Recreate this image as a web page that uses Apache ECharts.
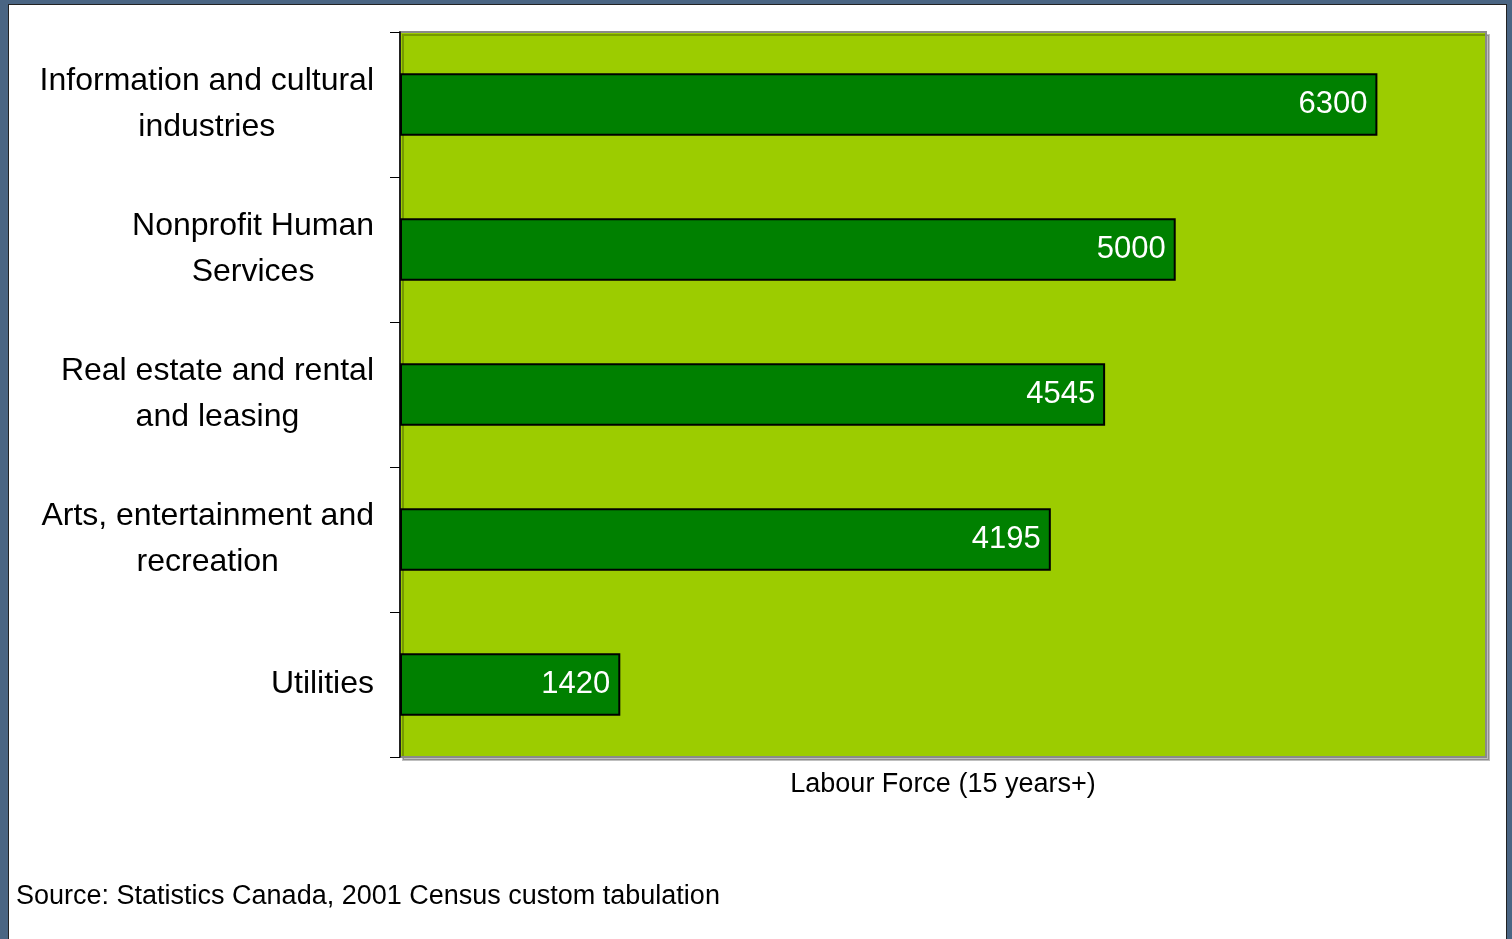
<!DOCTYPE html>
<html>
<head>
<meta charset="utf-8">
<script src="https://cdn.jsdelivr.net/npm/echarts@6/dist/echarts.min.js"></script>
<style>
  html, body { margin: 0; padding: 0; background: #4a6583; }
  #frame { position: absolute; left: 8px; top: 4px; width: 1499px; height: 940px; background: #fff; border-left: 1px solid #222; border-top: 1px solid #222; border-right: 1px solid #222; box-sizing: border-box; }
  #chart { position: absolute; left: 0; top: 0; width: 1512px; height: 939px; }
</style>
</head>
<body>
<div id="frame"></div>
<div id="chart"></div>
<script>
const categories = [
  'Information and cultural\nindustries',
  'Nonprofit Human\nServices',
  'Real estate and rental\nand leasing',
  'Arts, entertainment and\nrecreation',
  'Utilities'
];
const labourForce = [6300, 5000, 4545, 4195, 1420];
const axisTitle = 'Labour Force (15 years+)';
const sourceNote = 'Source: Statistics Canada, 2001 Census custom tabulation';

const FONT = '"Liberation Sans", Arial, sans-serif';
const chart = echarts.init(document.getElementById('chart'), null, { renderer: 'canvas' });
chart.setOption({
  backgroundColor: 'transparent',
  animation: false,
  textStyle: { fontFamily: FONT },
  title: {
    text: sourceNote,
    left: 16,
    top: 883,
    padding: 0,
    textStyle: { fontFamily: FONT, fontSize: 27, fontWeight: 'normal', color: '#000' }
  },
  grid: {
    left: 400, top: 32, width: 1086, height: 725,
    show: true,
    backgroundColor: '#9ccc00',
    borderColor: '#8a8a8a',
    borderWidth: 2,
    shadowColor: 'rgba(0,0,0,0.25)',
    shadowOffsetX: 3,
    shadowOffsetY: 3,
    shadowBlur: 0
  },
  xAxis: {
    type: 'value',
    min: 0,
    max: 7000,
    axisLine: { show: false },
    axisTick: { show: false },
    axisLabel: { show: false },
    splitLine: { show: false },
    name: axisTitle,
    nameLocation: 'middle',
    nameGap: 14,
    nameTextStyle: { fontFamily: FONT, fontSize: 27, color: '#000', verticalAlign: 'top' }
  },
  yAxis: {
    type: 'category',
    inverse: true,
    data: categories,
    axisLine: { show: true, lineStyle: { color: '#000', width: 1.5 } },
    axisTick: { show: true, length: 10, lineStyle: { color: '#000', width: 1 } },
    axisLabel: {
      margin: 26,
      align: 'right',
      formatter: function (v) {
        return v.split('\n').map(function (s) { return '{c|' + s + '}'; }).join('\n');
      },
      rich: {
        c: { fontFamily: FONT, fontSize: 32, color: '#000', align: 'center', lineHeight: 46 }
      }
    }
  },
  series: [{
    type: 'bar',
    data: labourForce,
    barCategoryGap: '57%',
    itemStyle: { color: '#008000', borderColor: '#000', borderWidth: 2 },
    label: {
      show: true,
      position: 'insideRight',
      distance: 10,
      color: '#fff',
      fontFamily: FONT,
      fontSize: 31
    }
  }]
});
</script>
</body>
</html>
